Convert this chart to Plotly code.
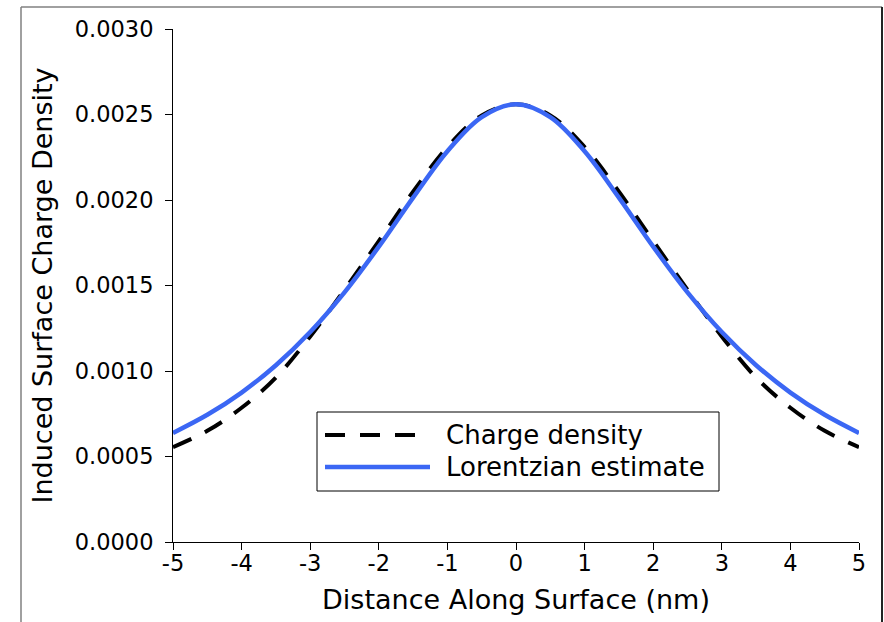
import plotly.graph_objects as go

# Data
distance_nm = [-5.0, -4.5, -4.0, -3.5, -3.0, -2.5, -2.0, -1.5, -1.0, -0.5, 0.0,
               0.5, 1.0, 1.5, 2.0, 2.5, 3.0, 3.5, 4.0, 4.5, 5.0]
charge_density = [0.000555, 0.000650, 0.000785, 0.000962, 0.001202, 0.001475, 0.001760,
                  0.002048, 0.002310, 0.002495, 0.002560,
                  0.002495, 0.002310, 0.002048, 0.001760, 0.001475, 0.001202,
                  0.000962, 0.000785, 0.000650, 0.000555]
lorentzian = [0.000638, 0.000744, 0.000874, 0.001034, 0.001228, 0.001460, 0.001727,
              0.002014, 0.002285, 0.002485, 0.002560,
              0.002485, 0.002285, 0.002014, 0.001727, 0.001460, 0.001228,
              0.001034, 0.000874, 0.000744, 0.000638]
series_names = ["Charge density", "Lorentzian estimate"]

x_tick_vals = [-5, -4, -3, -2, -1, 0, 1, 2, 3, 4, 5]
x_tick_text = ["-5", "-4", "-3", "-2", "-1", "0", "1", "2", "3", "4", "5"]
y_tick_vals = [0.0, 0.0005, 0.0010, 0.0015, 0.0020, 0.0025, 0.0030]
y_tick_text = ["0.0000", "0.0005", "0.0010", "0.0015", "0.0020", "0.0025", "0.0030"]

FONT = "DejaVu Sans"
BLACK_LINE = dict(color="black", width=4, dash="20px,15px")
BLUE_LINE = dict(color="#3b67f4", width=4.5)

fig = go.Figure()
fig.add_trace(go.Scatter(
    x=distance_nm, y=charge_density, mode="lines", name=series_names[0],
    line=dict(BLACK_LINE, shape="spline"), showlegend=False,
))
fig.add_trace(go.Scatter(
    x=distance_nm, y=lorentzian, mode="lines", name=series_names[1],
    line=dict(BLUE_LINE, shape="spline"), showlegend=False,
))

W, H = 884, 622
L, R, T, B = 173, 25, 29, 80
pw = W - L - R
ph = H - T - B

def px(xp):
    return (xp - L) / pw

def py(yp):
    return (H - B - yp) / ph

shapes = [
    # outer frame
    dict(type="line", xref="paper", yref="paper", x0=px(21), x1=px(882), y0=py(7), y1=py(7),
         line=dict(color="#808080", width=1.5)),
    dict(type="line", xref="paper", yref="paper", x0=px(21), x1=px(21), y0=py(7), y1=py(640),
         line=dict(color="#808080", width=1.5)),
    dict(type="line", xref="paper", yref="paper", x0=px(882), x1=px(882), y0=py(7), y1=py(640),
         line=dict(color="#222222", width=2)),
    # legend box
    dict(type="rect", xref="paper", yref="paper", x0=px(317), x1=px(719), y0=py(412), y1=py(491),
         line=dict(color="black", width=1), fillcolor="white", layer="above"),
    dict(type="line", xref="paper", yref="paper", x0=px(325), x1=px(417), y0=py(435), y1=py(435),
         line=BLACK_LINE, layer="above"),
    dict(type="line", xref="paper", yref="paper", x0=px(325), x1=px(430), y0=py(467), y1=py(467),
         line=BLUE_LINE, layer="above"),
]

annotations = [
    dict(text=series_names[0], xref="paper", yref="paper", x=px(444), y=py(435),
         xanchor="left", yanchor="middle", showarrow=False,
         font=dict(family=FONT, size=26, color="black")),
    dict(text=series_names[1], xref="paper", yref="paper", x=px(444), y=py(467),
         xanchor="left", yanchor="middle", showarrow=False,
         font=dict(family=FONT, size=26, color="black")),
]

fig.update_layout(
    width=W, height=H,
    margin=dict(l=L, r=R, t=T, b=B, autoexpand=False),
    paper_bgcolor="white", plot_bgcolor="white",
    font=dict(family=FONT, color="black", size=22),
    showlegend=False,
    xaxis=dict(
        range=[-5, 5], tickmode="array", tickvals=x_tick_vals, ticktext=x_tick_text,
        showline=True, linecolor="black", linewidth=1, mirror=False,
        ticks="outside", ticklen=7, tickcolor="black", tickwidth=1,
        showgrid=False, zeroline=False, ticklabelstandoff=-6,
        tickfont=dict(family=FONT, size=22.5),
        title=dict(text="Distance Along Surface (nm)", font=dict(family=FONT, size=27), standoff=15),
    ),
    yaxis=dict(
        range=[0, 0.003], tickmode="array", tickvals=y_tick_vals, ticktext=y_tick_text,
        showline=True, linecolor="black", linewidth=1, mirror=False,
        ticks="outside", ticklen=7, tickcolor="black", tickwidth=1,
        showgrid=False, zeroline=False, ticklabelstandoff=7,
        tickfont=dict(family=FONT, size=22.5),
        title=dict(text="Induced Surface Charge Density", font=dict(family=FONT, size=27), standoff=14),
    ),
    shapes=shapes,
    annotations=annotations,
)

fig.write_html("out.html", config={"displayModeBar": False},
               post_script="document.body.style.margin='0';")
